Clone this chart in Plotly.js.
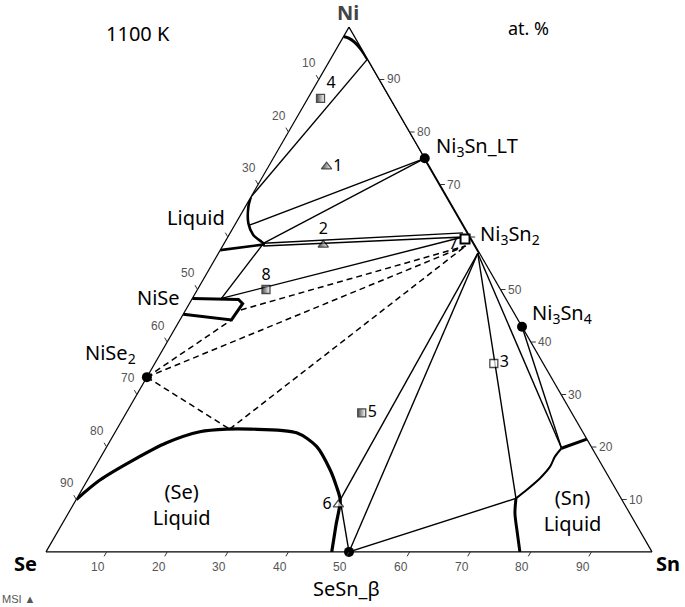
<!DOCTYPE html>
<html><head><meta charset="utf-8">
<script src="https://cdn.plot.ly/plotly-3.0.1.min.js"></script>
<style>html,body{margin:0;padding:0;background:#fff}</style>
</head><body><div id="chart" style="width:685px;height:607px"></div>
<script>
// All compositions in at.% as [Ni, Se, Sn]
const niSolvus = [[98.2,1.8,0],[97.9,1.1,1.0],[97.1,0.5,2.4],[95.8,0.15,4.05],[93.9,0,6.1]];
const liquidNiRich = [[67.6,32.4,0],[65.8,33.7,0.5],[62.6,35.3,2.1],[60.4,35.6,4.0],[59.1,34.9,6.0],[58.6,34.6,6.8]];
const liquidNiRichBase = [[57.5,42.5,0],[58.6,34.6,6.8]];
const niSeField = [[48.3,51.7,0],[48.1,44.2,7.7],[47.3,43.9,8.8],[44.2,47.3,8.5],[45.3,54.7,0]];
const liquidSe = [[10,90,0],[13.7,84.25,2.05],[17.5,76.85,5.65],[20.8,69.7,9.5],[22.9,63.15,13.95],[23.4,58.5,18.1],[23.4,54.6,22.0],[22.7,47.3,30.0],[20.1,45.3,34.6],[15.6,45.3,39.1],[12.4,45.85,41.75],[9.9,46.5,43.6],[5.1,49.6,45.3],[0,52.85,47.15]];
const liquidSnBranch = [[19.75,5.05,75.2],[21.5,0,78.5]];
const liquidSnCurve = [[19.75,5.05,75.2],[18.15,6.95,74.9],[16.25,8.7,75.05],[14.05,11.45,74.5],[11.8,14.8,73.4],[10.2,17.35,72.45]];
const liquidSnBottom = [[10.2,17.35,72.45],[7.37,18.93,73.7],[3.56,20.44,76.0],[0,21.8,78.2]];
const ni3Sn2Range = [[75,0,25],[56.9,0,43.1]];
const edgeNiToNi3Sn = [[93.9,0,6.1],[75,0,25]];

const tieLines = [
  [[93.9,0,6.1],[67.6,32.4,0]],
  [[75,0,25],[62.3,35.2,2.5]],
  [[75,0,25],[58.8,34.75,6.45]],
  [[58.8,34.7,6.5],[60.8,0.8,38.4]],
  [[58.3,35.0,6.7],[60.0,1.2,38.8]],
  [[58.8,34.7,6.5],[48.3,46.9,4.8]],
  [[48.3,46.9,4.8],[60.0,1.2,38.8]],
  [[56.9,0.3,42.8],[9.9,46.5,43.6]],
  [[56.9,0.3,42.8],[0,50,50]],
  [[56.9,0.3,42.8],[10.2,17.35,72.45]],
  [[56.9,0.3,42.8],[19.75,5.05,75.2]],
  [[42.9,0,57.1],[19.75,5.05,75.2]],
  [[0,50,50],[10.2,17.35,72.45]],
  [[0,50,50],[9.9,46.5,43.6]]
];
const dashedLines = [
  [[33.3,66.7,0],[44.2,47.3,8.5]],
  [[46.1,44.8,9.1],[58.3,1.6,40.1]],
  [[33.3,66.7,0],[58.3,1.6,40.1]],
  [[33.3,66.7,0],[23.4,58.0,18.6]],
  [[23.4,58.0,18.6],[58.3,1.6,40.1]]
];

const phaseDots = [[75,0,25],[42.9,0,57.1],[33.3,66.7,0],[0,50,50]];
const ni3Sn2Point = [59.6,1.05,39.35];

const sampleIds = ['1','2','3','4','5','6','8'];
const sampleComp = [[73.4,17.0,9.6],[58.5,25.0,16.5],[35.9,8.15,55.95],[86.4,11.5,2.1],[26.5,34.65,38.85],[9.0,47.25,43.75],[50.0,38.7,11.3]];
const sampleShape = ['triangle-up','triangle-up','square','square','square','triangle-up','square'];
const sampleHalfFilled = [true,true,false,true,true,false,true];

const tickVals = [10,20,30,40,50,60,70,80,90];
const seLabelVals = [10,20,30,50,60,70,80,90];
const niLabelVals = [10,20,30,40,50,70,80,90];
const snLabelVals = [10,20,30,40,50,60,70,80,90];

// label anchors (composition) for texts outside the triangle
const outsideLabels = [
  {t:'Ni<sub>3</sub>Sn_LT', p:[77.3,-2.65,25.35], xa:'left'},
  {t:'Ni<sub>3</sub>Sn<sub>2</sub>', p:[60.4,-1.5,41.1], xa:'left'},
  {t:'Ni<sub>3</sub>Sn<sub>4</sub>', p:[45.5,-2.6,57.1], xa:'left'},
  {t:'NiSe', p:[48.4,53.4,-1.8], xa:'right'},
  {t:'NiSe<sub>2</sub>', p:[37.9,65.9,-3.8], xa:'right'},
  {t:'Liquid', p:[63.8,38.3,-2.1], xa:'right'},
  {t:'SeSn_β', p:[-6.9,53.8,53.1], xa:'center'}
];
const cornerLabels = [
  {t:'<b>Ni</b>', p:[102.8,-1.2,-1.6], col:'#444'},
  {t:'<b>Se</b>', p:[-2.1,104.5,-2.4], col:'#000'},
  {t:'<b>Sn</b>', p:[-2.1,-1.6,103.7], col:'#000'}
];

// ---- helpers ----
const A = p => p[0], B = p => p[1], C = p => p[2];
// ternary fills the whole plot area: bottom edge = paper y 0, apex = paper y 1
const px = p => (p[2] + p[0] / 2) / 100;
const py = p => p[0] / 100;
const PW = 606, PH = 525;

function lineTrace(pts, width, dash, smooth) {
  return {type:'scatterternary', mode:'lines', a:pts.map(A), b:pts.map(B), c:pts.map(C),
    line:{color:'#000', width:width, dash:dash||'solid', shape:smooth ? 'spline' : 'linear', smoothing:0.8},
    hoverinfo:'skip', showlegend:false};
}
function segTrace(segs, width, dash) {
  const pts = [];
  segs.forEach(s => { pts.push(s[0], s[1], [null,null,null]); });
  return lineTrace(pts, width, dash);
}
function textTrace(pts, texts, pos, size, color) {
  return {type:'scatterternary', mode:'text', a:pts.map(A), b:pts.map(B), c:pts.map(C),
    text:texts, textposition:pos, cliponaxis:false,
    textfont:{size:size, color:color||'#000', family:'Noto Sans'}, hoverinfo:'skip', showlegend:false};
}

const traces = [];
traces.push(segTrace(tieLines, 1.4));
traces.push(segTrace(dashedLines, 1.5, '6px,4px'));
traces.push(lineTrace(edgeNiToNi3Sn, 1.3));
traces.push(lineTrace(ni3Sn2Range, 2.6));
traces.push(lineTrace(niSolvus, 3, null, true));
traces.push(lineTrace(liquidNiRich, 2.6, null, true));
traces.push(lineTrace(liquidNiRichBase, 2.6));
traces.push(lineTrace(niSeField, 3));
traces.push(lineTrace(liquidSe, 3.2, null, true));
traces.push(lineTrace(liquidSnBranch, 3));
traces.push(lineTrace(liquidSnCurve, 2, null, true));
traces.push(lineTrace(liquidSnBottom, 3, null, true));

// phase points
traces.push({type:'scatterternary', mode:'markers', a:phaseDots.map(A), b:phaseDots.map(B), c:phaseDots.map(C),
  cliponaxis:false, marker:{symbol:'circle', size:10, color:'#000'}, hoverinfo:'skip', showlegend:false});
traces.push({type:'scatterternary', mode:'markers', a:[ni3Sn2Point[0]], b:[ni3Sn2Point[1]], c:[ni3Sn2Point[2]],
  cliponaxis:false, marker:{symbol:'square', size:9, color:'#fff', line:{width:2, color:'#000'}}, hoverinfo:'skip', showlegend:false});

// samples
traces.push({type:'scatterternary', mode:'markers+text', a:sampleComp.map(A), b:sampleComp.map(B), c:sampleComp.map(C),
  text:sampleIds, textposition:['middle right','top center','middle right','top right','middle right','middle left','top center'],
  textfont:{size:16, color:'#000', family:'Noto Sans'}, cliponaxis:false,
  marker:{symbol:sampleShape, size:sampleShape.map(s => s === 'square' ? 8 : 9),
    color:sampleHalfFilled.map(h => h ? '#000' : '#fff'),
    gradient:{type:sampleHalfFilled.map(h => h ? 'horizontal' : 'none'), color:'#fff'},
    line:{width:1.3, color:'#000'}},
  hoverinfo:'skip', showlegend:false});

// region labels inside the triangle
traces.push(textTrace([[8.57,73.33,18.1],[7.43,9.4,83.17]],
  ['(Se)<br>Liquid','(Sn)<br>Liquid'], 'middle center', 20));
traces.push(textTrace([[58.5,3.55,37.95]], ['7'], 'middle center', 16));

// ---- axis ticks & labels (iso-lines of the labelled component) ----
const shapes = [];
const annotations = [];
const TL = 5;
function addTick(p, dxPix, dyPix) {
  const x0 = px(p), y0 = py(p);
  shapes.push({type:'line', xref:'paper', yref:'paper', x0:x0, y0:y0,
    x1:x0 + dxPix * TL / PW, y1:y0 - dyPix * TL / PH, line:{color:'#333', width:1}});
}
tickVals.forEach(v => addTick([100 - v, v, 0], -0.5, -0.866));   // Se scale, left edge
tickVals.forEach(v => addTick([0, 100 - v, v], -0.5, 0.866));    // Sn scale, bottom edge
tickVals.forEach(v => addTick([v, 0, 100 - v], 1, 0));           // Ni scale, right edge

const LO = 3.05, BO = 2.86, RO = 2.35;
function addTickLabel(p, v) {
  annotations.push({xref:'paper', yref:'paper', x:px(p), y:py(p), text:String(v), showarrow:false,
    xanchor:'center', yanchor:'middle', font:{family:'Liberation Sans, Arial, sans-serif', size:12, color:'#555'}});
}
seLabelVals.forEach(v => addTickLabel([100 - v + LO, v, -LO], v));
snLabelVals.forEach(v => addTickLabel([-BO, 100 - v + BO, v], v));
niLabelVals.forEach(v => addTickLabel([v, -RO, 100 - v + RO], v));

outsideLabels.forEach(l => annotations.push({xref:'paper', yref:'paper', x:px(l.p), y:py(l.p), text:l.t,
  showarrow:false, xanchor:l.xa, yanchor:'middle', font:{family:'Noto Sans', size:20, color:'#000'}}));
cornerLabels.forEach(l => annotations.push({xref:'paper', yref:'paper', x:px(l.p), y:py(l.p), text:l.t,
  showarrow:false, xanchor:'center', yanchor:'middle', font:{family:'Noto Sans', size:20, color:l.col}}));

annotations.push(
  {xref:'paper', yref:'paper', x:0.151, y:0.987, text:'1100 K', showarrow:false, xanchor:'center', yanchor:'middle', font:{family:'Noto Sans', size:20, color:'#000'}},
  {xref:'paper', yref:'paper', x:0.797, y:0.999, text:'at. %', showarrow:false, xanchor:'center', yanchor:'middle', font:{family:'Noto Sans', size:18, color:'#000'}},
  {xref:'paper', yref:'paper', x:-0.076, y:-0.09, text:'MSI ▲', showarrow:false, xanchor:'left', yanchor:'middle', font:{family:'Liberation Sans, Arial', size:11, color:'#555'}}
);

const axisStyle = {showgrid:false, showticklabels:false, ticks:'', showline:true, linecolor:'#000', linewidth:1.2, title:{text:''}};
const layout = {
  width:685, height:607,
  margin:{l:46, r:33, t:27, b:55, pad:0},
  paper_bgcolor:'#fff', plot_bgcolor:'#fff', showlegend:false,
  ternary:{sum:100, bgcolor:'#fff', domain:{x:[0,1], y:[0,1]},
    aaxis:Object.assign({}, axisStyle), baxis:Object.assign({}, axisStyle), caxis:Object.assign({}, axisStyle)},
  shapes:shapes,
  annotations:annotations
};
Plotly.newPlot('chart', traces, layout, {staticPlot:true, displayModeBar:false});
</script></body></html>
